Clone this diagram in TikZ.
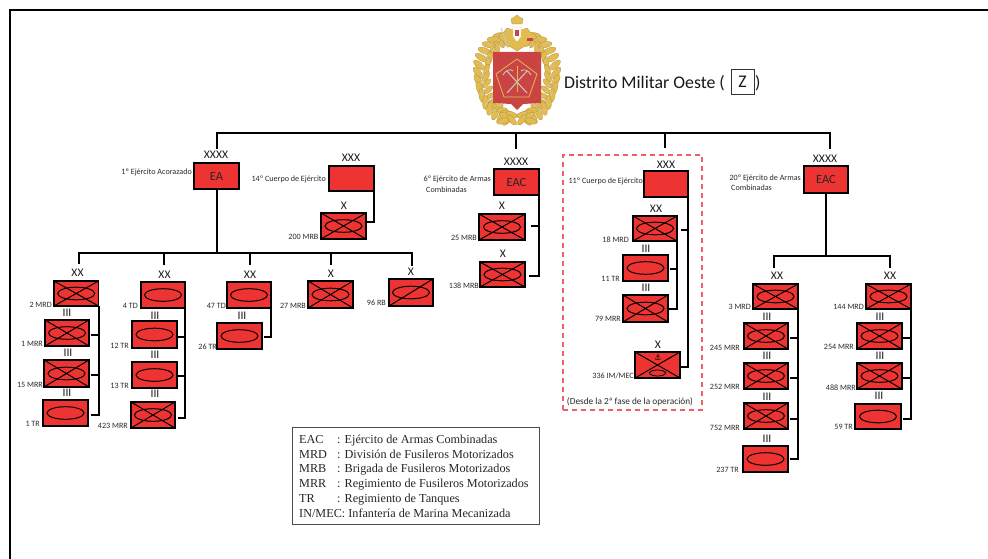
\documentclass[tikz,border=0pt]{standalone}
\usepackage{fontspec}
\setmainfont{Carlito}
\newfontfamily\legfont{Liberation Serif}
\newfontfamily\symfont{DejaVu Sans}
\definecolor{unitred}{HTML}{EE3333}
\definecolor{dashred}{HTML}{F0606A}
\definecolor{txt}{HTML}{2A2A2A}
\definecolor{gold}{HTML}{E2BC50}
\definecolor{golddark}{HTML}{B08F35}
\definecolor{shieldred}{HTML}{CB4444}
\definecolor{silver}{HTML}{C9C9C9}
\tikzset{
  unitbox/.style={draw=black,fill=unitred,line width=1.3pt,inner sep=0pt,outer sep=0pt,font=\fontsize{12.5}{14}\selectfont,text=black!85},
  conn/.style={draw=black,line width=2pt,line join=miter},
  sign/.style={line width=1pt,draw=black},
  ech/.style={inner sep=0pt,font=\fontsize{11.6}{12}\selectfont,text=black!90},
  lab/.style={inner sep=0pt,anchor=base east,font=\fontsize{8.1}{9}\selectfont,text=txt},
  labl/.style={inner sep=0pt,anchor=base west,font=\fontsize{8.1}{9}\selectfont,text=txt},
  leaf/.style={fill=gold,draw=golddark,line width=.25pt},
  twig/.style={draw=silver,line width=.5pt}
}
\newcommand\ubox[6]{\node[unitbox,minimum width={(#4-#2)*1pt},minimum height={(#5-#3)*1pt}] (#1) at ({(#2+#4)/2},{(#3+#5)/2}) {#6};}
\newcommand\uCross[1]{\draw[sign] (#1.north west) -- (#1.south east) (#1.north east) -- (#1.south west);}
\newcommand\uOval[1]{\draw[sign] (#1.center) ellipse (18.5pt and 6.3pt);}
\newcommand\uMr[5]{\ubox{#1}{#2}{#3}{#4}{#5}{}\uOval{#1}\uCross{#1}}
\newcommand\uTk[5]{\ubox{#1}{#2}{#3}{#4}{#5}{}\uOval{#1}}
\newcommand\uEc[4]{\node[ech] (#1-e) at (#2,#3) {#4};}
\newcommand\uLb[4]{\node[lab] (#1-l) at (#2,#3) {#4};}
\newcommand\uStub[3]{\coordinate (#1-s) at (#2,#3);}
\begin{document}
\begin{tikzpicture}[x=1pt,y=-1pt]
\useasboundingbox (0,0) rectangle (988,559);
\fill[white] (0,0) rectangle (988,559);
% outer frame
\coordinate (fa) at (9.5,559);
\coordinate (fb) at (988,10.5);
\draw[conn] (fa) |- (fb);

% ---------- emblem
\begin{scope}
% wreath
\foreach \a in {-64,-54,...,76}{
  \draw[leaf,shift={({517+39*cos(\a)},{76+45*sin(\a)})},rotate=\a+55] (0,0) ellipse (7pt and 3pt);
  \draw[leaf,shift={({517-39*cos(\a)},{76+45*sin(\a)})},rotate=-\a-55] (0,0) ellipse (7pt and 3pt);
  \draw[leaf,shift={({517+31*cos(\a+5)},{76+39*sin(\a+5)})},rotate=\a+125] (0,0) ellipse (6pt and 2.5pt);
  \draw[leaf,shift={({517-31*cos(\a+5)},{76+39*sin(\a+5)})},rotate=-\a-125] (0,0) ellipse (6pt and 2.5pt);
}
\foreach \a in {-60,-44,...,70}{
  \draw[twig,shift={({517+35*cos(\a)},{76+42*sin(\a)})},rotate=\a+90] (-6pt,0pt) -- (6pt,0pt);
  \draw[twig,shift={({517-35*cos(\a)},{76+42*sin(\a)})},rotate=-\a-90] (-6pt,0pt) -- (6pt,0pt);
}
\foreach \p/\q/\r in {505/116/-25,512/120/-50,503/121/15,529/116/25,522/120/50,531/121/-15}{
  \draw[leaf,shift={(\p,\q)},rotate=\r] (0,0) ellipse (6.5pt and 2.8pt);
}
% eagle
\draw[fill=gold,draw=golddark,line width=.3pt] (517,51) -- (511,47) -- (506,46) -- (503,41) -- (498,38) -- (500,34) -- (504,32) -- (507,28) -- (513,30) -- (517,35) -- (521,30) -- (527,28) -- (530,32) -- (534,34) -- (537,38) -- (531,41) -- (528,46) -- (523,47) -- cycle;
\draw[silver,line width=.9pt] (501,28) -- (508,48);
\fill[shieldred] (527,38) rectangle (533,41);
\draw[fill=gold,draw=golddark,line width=.3pt] (512,24) -- (511,19) -- (514,17.5) -- (517,15) -- (520,17.5) -- (523,19) -- (522,24) -- cycle;
\draw[fill=white,draw=gold,line width=.4pt] (513,27) -- (521,27) -- (521,37) -- (517,42) -- (513,37) -- cycle;
\fill[shieldred] (515,30) rectangle (519,36);
% shield
\fill[shieldred] (493,52) -- (541,52) -- (541,103) -- (523,104) -- (517,110) -- (511,104) -- (493,103) -- cycle;
\draw[gold,line width=.8pt,line join=round] (517,59) -- (537,74) -- (529,97) -- (504,97) -- (496,74) -- cycle;
\draw[silver,line width=1pt] (507,93) -- (527,71) (527,93) -- (507,71);
\draw[silver,line width=.9pt] (503,75) .. controls (506,69) and (511,69) .. (513,71) (531,75) .. controls (528,69) and (523,69) .. (521,71);
\draw[gold,line width=1pt] (517,66) -- (517,92);
\end{scope}

% ---------- title
\node[inner sep=0pt,anchor=base west,font=\fontsize{17.8}{20}\selectfont,text=black!90] (title) at (564,88.5) {Distrito Militar Oeste (};
\node[draw=black!80,line width=.8pt,minimum width=23pt,minimum height=25pt,inner sep=0pt,font=\fontsize{17.8}{20}\selectfont,text=black!90] (zbox) at (742.5,81.5) {Z};
\node[inner sep=0pt,anchor=base west,font=\fontsize{17.8}{20}\selectfont,text=black!90] (close) at (755,88.5) {)};

% ---------- top bus
\coordinate (t1) at (217,149);
\coordinate (t2) at (516,149);
\coordinate (t3) at (665,148);
\coordinate (t4) at (830,149);
\coordinate (tb) at (0,133);
\draw[conn] (t1) |- (t4 |- tb) -- (t4);
\draw[conn] (t2) -- (t2 |- tb);
\draw[conn] (t3) -- (t3 |- tb);

% ---------- 1st Tank Army
\ubox{ea}{194}{163}{239}{189}{EA}
\uEc{ea}{216}{155}{XXXX}
\node[lab] (ea-l) at (192,175) {1º Ejército Acorazado};

\coordinate (b1) at (79,264);
\coordinate (b2) at (164,265);
\coordinate (b3) at (250,265);
\coordinate (b4) at (331,265);
\coordinate (b5) at (412,266);
\coordinate (bb) at (0,252.5);
\draw[conn] (ea.south) -- (ea.south |- bb);
\draw[conn] (b1) |- (b5 |- bb) -- (b5);
\draw[conn] (b2) -- (b2 |- bb);
\draw[conn] (b3) -- (b3 |- bb);
\draw[conn] (b4) -- (b4 |- bb);

% 2 MRD column
\uMr{a1}{54}{281}{98.5}{306}
\uEc{a1}{77.5}{273}{XX}\uLb{a1}{52}{307}{2 MRD}
\uMr{a2}{45}{320}{89}{346}
\uEc{a2}{67}{313}{III}\uLb{a2}{43}{346}{1 MRR}
\uMr{a3}{44}{360}{89}{387}
\uEc{a3}{68}{353}{III}\uLb{a3}{43}{387}{15 MRR}
\uTk{a4}{43}{400}{88}{426}
\uEc{a4}{67}{393}{III}\uLb{a4}{40}{426.5}{1 TR}
\uStub{a2}{91}{335}\uStub{a3}{91}{375}\uStub{a4}{91}{415}
\draw[conn] (a1.south east) |- (a4-s);
\draw[conn] (a2-s) -- (a2-s -| a1.south east);
\draw[conn] (a3-s) -- (a3-s -| a1.south east);

% 4 TD column
\uTk{c1}{141}{282}{185}{308}
\uEc{c1}{164.5}{274.5}{XX}\uLb{c1}{138}{308.5}{4 TD}
\uTk{c2}{132}{321}{177}{348}
\uEc{c2}{155}{316}{III}\uLb{c2}{129}{348}{12 TR}
\uTk{c3}{132}{362}{177}{388}
\uEc{c3}{155}{355}{III}\uLb{c3}{129}{388}{13 TR}
\uMr{c4}{131}{402}{175}{428}
\uEc{c4}{155}{394}{III}\uLb{c4}{128}{428.5}{423 MRR}
\uStub{c2}{178}{337}\uStub{c3}{178}{376}\uStub{c4}{178}{418}
\draw[conn] (c1.south east) |- (c4-s);
\draw[conn] (c2-s) -- (c2-s -| c1.south east);
\draw[conn] (c3-s) -- (c3-s -| c1.south east);

% 47 TD column
\uTk{d1}{227}{282}{271}{308}
\uEc{d1}{250}{274.5}{XX}\uLb{d1}{226}{308.5}{47 TD}
\uTk{d2}{217}{323}{262}{349}
\uEc{d2}{242}{316}{III}\uLb{d2}{217}{349}{26 TR}
\uStub{d2}{264}{337}
\draw[conn] (d1.south east) |- (d2-s);

% brigades
\uMr{e1}{308}{281}{353}{308}
\uEc{e1}{331}{274}{X}\uLb{e1}{306}{308}{27 MRB}
\uTk{e2}{389}{279}{433}{306}
\draw[sign] (e2.south west) -- (e2.north east);
\uEc{e2}{411}{272}{X}\uLb{e2}{386}{305.5}{96 RB}

% ---------- 14th Corps
\ubox{f}{329}{166}{374}{191}{}
\uEc{f}{351}{158}{XXX}
\uLb{f}{326}{181}{14º Cuerpo de Ejército}
\uMr{f1}{321}{213}{366}{239}
\uEc{f1}{344}{206}{X}\uLb{f1}{318.5}{239}{200 MRB}
\uStub{f1}{366}{222}
\draw[conn] (f.south east) |- (f1-s);

% ---------- 6th CAA
\ubox{g}{494}{169}{539}{195}{EAC}
\uEc{g}{516}{162}{XXXX}
\uLb{g}{491}{182}{6º Ejército de Armas}
\node[labl] (g-m) at (426,193) {Combinadas};
\uMr{g1}{479}{214}{525}{240}
\uEc{g1}{502}{206}{X}\uLb{g1}{477}{240}{25 MRB}
\uMr{g2}{480}{262}{525}{287}
\uEc{g2}{503}{254}{X}\uLb{g2}{479}{288}{138 MRB}
\uStub{g1}{531}{226}\uStub{g2}{529}{276}
\draw[conn] (g.south east) |- (g2-s);
\draw[conn] (g1-s) -- (g1-s -| g.south east);

% ---------- 11th Corps
\node[draw=dashred,line width=1.1pt,dash pattern=on 5pt off 4pt,minimum width=139pt,minimum height=255pt,inner sep=0pt] (dash) at (632.5,282.5) {};
\ubox{h}{644}{171}{688}{197}{}
\uEc{h}{666}{165}{XXX}
\uLb{h}{643}{183}{11º Cuerpo de Ejército}
\uMr{h1}{633}{216}{677}{241}
\uEc{h1}{656}{209}{XX}\uLb{h1}{629}{242}{18 MRD}
\uTk{h2}{623}{255}{668}{281}
\uEc{h2}{646}{249}{III}\uLb{h2}{620}{281}{11 TR}
\uMr{h3}{623}{295}{668}{322}
\uEc{h3}{646}{288}{III}\uLb{h3}{621}{321}{79 MRR}
\ubox{h4}{635}{352}{680}{378}{}
\uCross{h4}
\draw[sign,line width=.8pt] (h4.center) ++(0pt,-8pt) ellipse (8pt and 3pt);
\node[inner sep=0pt,font=\symfont\fontsize{8}{8}\selectfont] (anch) at (658,358) {\char"2693};
\uEc{h4}{658}{345}{X}\uLb{h4}{634}{378}{336 IM/MEC}
\uStub{h1}{681}{230}\uStub{h4}{680}{367}\uStub{h2}{670}{269}\uStub{h3}{669}{309}
\draw[conn] (h.south east) |- (h4-s);
\draw[conn] (h1-s) -- (h1-s -| h.south east);
\draw[conn] (h1.south east) |- (h3-s);
\draw[conn] (h2-s) -- (h2-s -| h1.south east);
\node[inner sep=0pt,font=\fontsize{9.3}{10}\selectfont,text=txt] (hn) at (630,402) {(Desde la 2ª fase de la operación)};

% ---------- 20th CAA
\ubox{k}{804}{166}{848}{193}{EAC}
\uEc{k}{825}{159}{XXXX}
\uLb{k}{801}{180}{20º Ejército de Armas}
\node[labl] (k-m) at (731,190) {Combinadas};
\coordinate (k1) at (774,268);
\coordinate (k2) at (890,268);
\coordinate (kb) at (0,256);
\draw[conn] (k.south) -- (k.south |- kb);
\draw[conn] (k1) |- (k2 |- kb) -- (k2);

\uMr{m1}{753}{284}{798}{309}
\uEc{m1}{777}{276}{XX}\uLb{m1}{751}{309.5}{3 MRD}
\uMr{m2}{744}{323}{788}{349}
\uEc{m2}{767}{317}{III}\uLb{m2}{740}{350}{245 MRR}
\uMr{m3}{744}{363}{788}{389}
\uEc{m3}{767}{356}{III}\uLb{m3}{740}{389}{252 MRR}
\uMr{m4}{744}{403}{788}{429}
\uEc{m4}{767}{397}{III}\uLb{m4}{740}{430}{752 MRR}
\uTk{m5}{743}{446}{788}{472}
\uEc{m5}{767}{439}{III}\uLb{m5}{739}{472}{237 TR}
\uStub{m2}{790}{338}\uStub{m3}{790}{378}\uStub{m4}{790}{419}\uStub{m5}{790}{459}
\draw[conn] (m1.south east) |- (m5-s);
\draw[conn] (m2-s) -- (m2-s -| m1.south east);
\draw[conn] (m3-s) -- (m3-s -| m1.south east);
\draw[conn] (m4-s) -- (m4-s -| m1.south east);

\uMr{n1}{866}{284}{911}{309}
\uEc{n1}{890}{276}{XX}\uLb{n1}{864}{309.5}{144 MRD}
\uMr{n2}{857}{323}{902}{349}
\uEc{n2}{880}{317}{III}\uLb{n2}{854}{349}{254 MRR}
\uMr{n3}{857}{363}{902}{389}
\uEc{n3}{880}{356}{III}\uLb{n3}{856}{390}{488 MRR}
\uTk{n4}{855}{404}{901}{429}
\uEc{n4}{879}{396}{III}\uLb{n4}{853}{429}{59 TR}
\uStub{n2}{903}{338}\uStub{n3}{903}{378}\uStub{n4}{903}{419}
\draw[conn] (n1.south east) |- (n4-s);
\draw[conn] (n2-s) -- (n2-s -| n1.south east);
\draw[conn] (n3-s) -- (n3-s -| n1.south east);

% ---------- legend
\node[draw=black!70,line width=.7pt,minimum width=247pt,minimum height=97pt,inner sep=0pt] (leg) at (415.5,475.5) {};
\begin{scope}[every node/.style={inner sep=0pt,anchor=base west,font=\legfont\fontsize{12.2}{13}\selectfont,text=black!85}]
\node (l1a) at (299,443) {EAC}; \node (l1b) at (337,443) {: Ejército de Armas Combinadas};
\node (l2a) at (299,458) {MRD}; \node (l2b) at (337,458) {: División de Fusileros Motorizados};
\node (l3a) at (299,472.5) {MRB}; \node (l3b) at (337,472.5) {: Brigada de Fusileros Motorizados};
\node (l4a) at (299,487) {MRR}; \node (l4b) at (337,487) {: Regimiento de Fusileros Motorizados};
\node (l5a) at (299,502) {TR}; \node (l5b) at (337,502) {: Regimiento de Tanques};
\node (l6a) at (299,517) {IN/MEC: Infantería de Marina Mecanizada};
\end{scope}
\end{tikzpicture}
\end{document}
